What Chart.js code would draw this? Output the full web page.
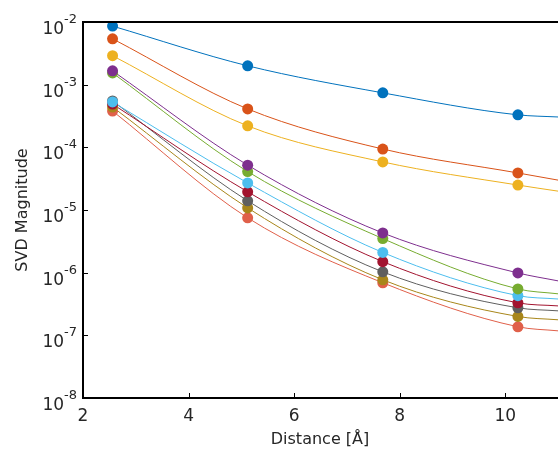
<!DOCTYPE html>
<html>
<head>
<meta charset="utf-8">
<script src="https://cdn.jsdelivr.net/npm/chart.js@4/dist/chart.umd.min.js"></script>
<style>
  html, body { margin: 0; padding: 0; background: #fff; overflow: hidden; }
  canvas { display: block; }
</style>
</head>
<body>
<canvas id="myChart" width="558" height="449"></canvas>
<script>
(function() {
  // measured distances (x) and the value of each singular value there
  var distances = [2.56, 5.12, 7.68, 10.24];
  var sv1  = [8.6e-3, 2.0e-3, 7.4e-4, 3.3e-4];
  var sv2  = [5.4e-3, 4.1e-4, 9.4e-5, 3.9e-5];
  var sv3  = [2.9e-3, 2.2e-4, 5.85e-5, 2.5e-5];
  var sv4  = [1.66e-3, 5.2e-5, 4.3e-6, 9.9e-7];
  var sv5  = [1.54e-3, 4.1e-5, 3.5e-6, 5.5e-7];
  var sv6  = [5.3e-4, 2.7e-5, 2.1e-6, 4.3e-7];
  var sv7  = [4.9e-4, 1.95e-5, 1.5e-6, 3.3e-7];
  var sv8  = [5.5e-4, 1.4e-5, 1.03e-6, 2.75e-7];
  var sv9  = [4.4e-4, 1.08e-5, 7.7e-7, 2.0e-7];
  var sv10 = [3.8e-4, 7.5e-6, 6.9e-7, 1.37e-7];

  // where each fitted curve leaves the picture on the right
  var fitEndX = 11;
  var fitEnd = [3.05e-4, 3.0e-5, 2.0e-5, 7.4e-7, 4.6e-7, 3.8e-7, 2.95e-7, 2.46e-7, 1.77e-7, 1.18e-7];

  var series = [sv1, sv2, sv3, sv4, sv5, sv6, sv7, sv8, sv9, sv10];
  var colors = ['#0072BD', '#D95319', '#EDB120', '#7E2F8E', '#77AC30',
                '#4DBEEE', '#A2142F', '#5F5F5F', '#A8861A', '#E0604A'];

  var xTicks = [2, 4, 6, 8, 10];
  var yTickExps = [-8, -7, -6, -5, -4, -3, -2];

  var textColor = '#262626';
  var font = '"DejaVu Sans", sans-serif';

  function pointsOf(values) {
    return values.map(function (v, i) { return { x: distances[i], y: v }; });
  }

  var datasets = [];
  // dots first so they sit on top of the curves
  series.forEach(function (values, i) {
    datasets.push({
      label: 'SV ' + (i + 1),
      data: pointsOf(values),
      showLine: false,
      pointRadius: 5.5,
      pointBorderWidth: 0,
      pointBackgroundColor: colors[i],
      pointBorderColor: colors[i]
    });
  });
  series.forEach(function (values, i) {
    var pts = pointsOf(values);
    pts.push({ x: fitEndX, y: fitEnd[i] });
    datasets.push({
      label: 'fit ' + (i + 1),
      data: pts,
      showLine: true,
      borderColor: colors[i],
      borderWidth: 1,
      pointRadius: 0,
      cubicInterpolationMode: 'monotone'
    });
  });

  var axesPlugin = {
    id: 'axes',
    afterDraw: function (chart) {
      var ctx = chart.ctx;
      var area = chart.chartArea;
      var xs = chart.scales.x;
      var ys = chart.scales.y;
      ctx.save();

      // box lines (left, bottom, top)
      ctx.strokeStyle = '#000';
      ctx.lineWidth = 2;
      ctx.beginPath();
      ctx.moveTo(area.right + 2, area.top);
      ctx.lineTo(area.left, area.top);
      ctx.lineTo(area.left, area.bottom);
      ctx.lineTo(area.right + 2, area.bottom);
      ctx.stroke();

      // inward tick marks
      ctx.lineWidth = 1;
      xTicks.forEach(function (t) {
        var px = Math.round(xs.getPixelForValue(t)) + 0.5;
        ctx.beginPath();
        ctx.moveTo(px, area.bottom);
        ctx.lineTo(px, area.bottom - 5);
        ctx.stroke();
      });
      yTickExps.forEach(function (e) {
        var py = Math.round(ys.getPixelForValue(Math.pow(10, e))) + 0.5;
        ctx.beginPath();
        ctx.moveTo(area.left, py);
        ctx.lineTo(area.left + 5, py);
        ctx.stroke();
      });

      // x tick labels
      ctx.fillStyle = textColor;
      ctx.font = '17px ' + font;
      ctx.textAlign = 'center';
      ctx.textBaseline = 'alphabetic';
      xTicks.forEach(function (t) {
        ctx.fillText(String(t), xs.getPixelForValue(t), area.bottom + 23);
      });

      // y tick labels 10^e
      yTickExps.forEach(function (e) {
        var py = ys.getPixelForValue(Math.pow(10, e));
        var right = area.left - 6;
        ctx.textAlign = 'right';
        ctx.font = '13px ' + font;
        var sup = '-' + Math.abs(e);
        var w = ctx.measureText(sup).width;
        ctx.fillText(sup, right, py + 1);
        ctx.font = '17px ' + font;
        ctx.fillText('10', right - w, py + 12);
      });

      // axis titles
      ctx.font = '16px ' + font;
      ctx.textAlign = 'center';
      ctx.fillText('Distance [Å]', 320, 444);
      ctx.translate(27, 210);
      ctx.rotate(-Math.PI / 2);
      ctx.fillText('SVD Magnitude', 0, 0);

      ctx.restore();
    }
  };

  var chart = new Chart(document.getElementById('myChart').getContext('2d'), {
    type: 'scatter',
    data: { datasets: datasets },
    options: {
      responsive: false,
      animation: false,
      layout: { autoPadding: false, padding: { top: 22, right: 0, left: 0, bottom: 0 } },
      plugins: { legend: { display: false }, tooltip: { enabled: false } },
      scales: {
        x: {
          type: 'linear', min: 2, max: fitEndX,
          ticks: { display: false },
          grid: { display: false },
          border: { display: false },
          afterFit: function (scale) { scale.height = 51; }
        },
        y: {
          type: 'logarithmic', min: 1e-8, max: 1e-2,
          ticks: { display: false },
          grid: { display: false },
          border: { display: false },
          afterFit: function (scale) { scale.width = 83; }
        }
      }
    },
    plugins: [axesPlugin]
  });
})();
</script>
</body>
</html>
